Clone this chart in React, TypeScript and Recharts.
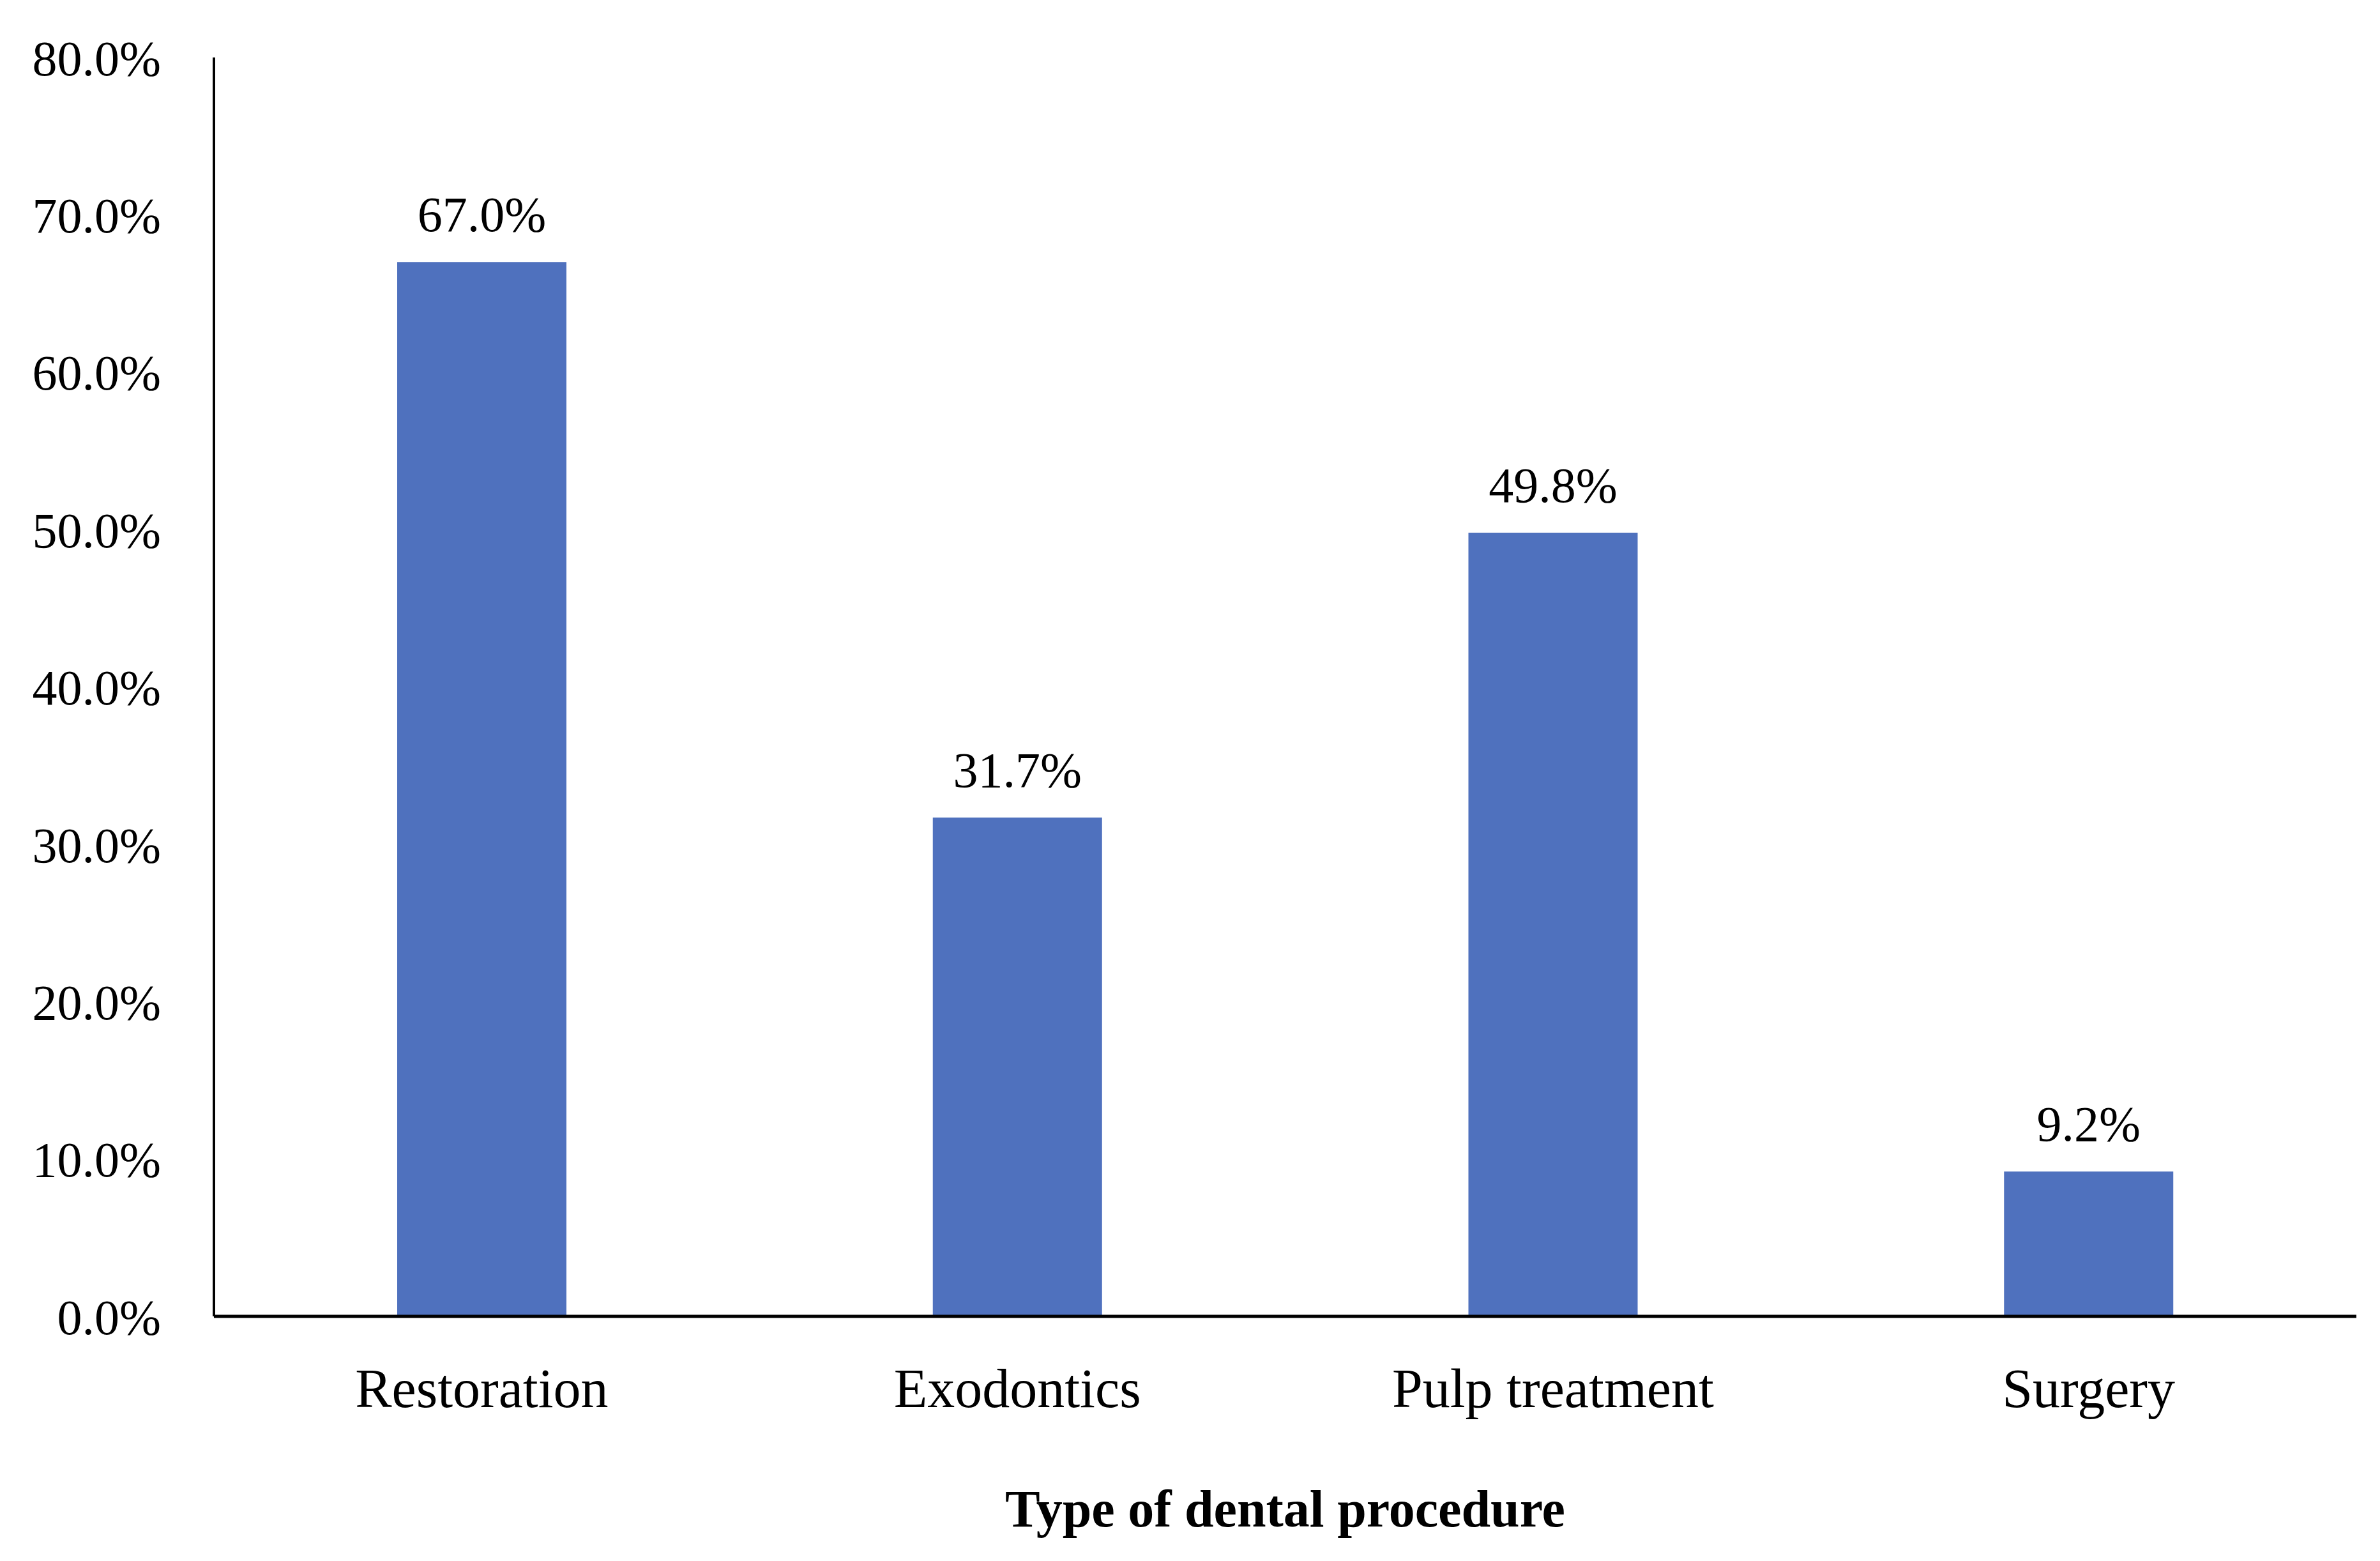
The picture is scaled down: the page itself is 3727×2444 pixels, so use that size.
import { BarChart, Bar, XAxis, YAxis, LabelList, Label } from "recharts";

const categories = ["Restoration", "Exodontics", "Pulp treatment", "Surgery"];
const percentages = [67.0, 31.7, 49.8, 9.2];
const yTicks = [0, 10, 20, 30, 40, 50, 60, 70, 80];

const data = categories.map((name, i) => ({ name, value: percentages[i] }));

const FONT = "'Liberation Serif', 'Times New Roman', serif";
const fmt = (v: number) => `${v.toFixed(1)}%`;

export default function App() {
  return (
    <div style={{ position: "absolute", left: 0, top: 0, width: 3727, height: 2444, background: "#fff" }}>
      <BarChart width={3727} height={2444} data={data} margin={{ top: 90, right: 37, bottom: 43, left: 0 }}>
        <XAxis
          dataKey="name"
          height={340}
          tickLine={false}
          tickSize={0}
          tickMargin={81}
          axisLine={{ stroke: "#000", strokeWidth: 5 }}
          tick={{ fontSize: 86, fill: "#000", fontFamily: FONT }}
        >
          <Label
            value="Type of dental procedure"
            position="insideBottom"
            offset={11}
            style={{ fontSize: 82, fontWeight: "bold", fill: "#000", fontFamily: FONT }}
          />
        </XAxis>
        <YAxis
          width={335}
          domain={[0, 80]}
          ticks={yTicks}
          tickFormatter={fmt}
          tickLine={false}
          tickSize={0}
          tickMargin={83}
          axisLine={{ stroke: "#000", strokeWidth: 4 }}
          tick={{ fontSize: 78, fill: "#000", fontFamily: FONT }}
        />
        <Bar dataKey="value" fill="#4F71BE" barSize={265} isAnimationActive={false}>
          <LabelList
            dataKey="value"
            position="top"
            offset={48}
            formatter={(v: number) => fmt(v)}
            style={{ fontSize: 78, fill: "#000", fontFamily: FONT }}
          />
        </Bar>
      </BarChart>
    </div>
  );
}
